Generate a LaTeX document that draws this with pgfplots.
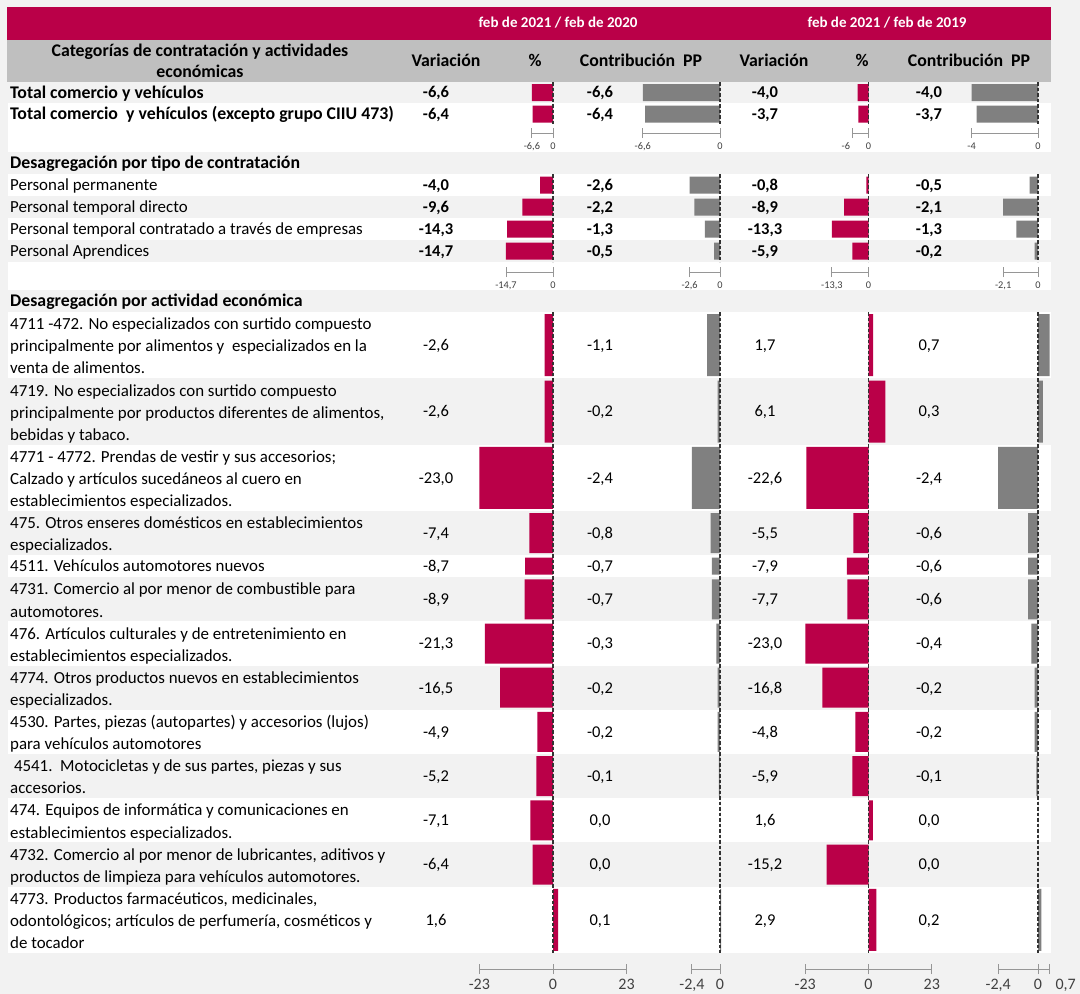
\documentclass[border=0pt]{standalone}
\usepackage{pgfplots}
\pgfplotsset{compat=1.18}
\usepackage{pgfplotstable}
\usepackage{fontspec}
\setmainfont{Carlito}
\definecolor{crim}{RGB}{186,0,72}
\definecolor{pagebg}{RGB}{242,242,242}
\definecolor{hdrgray}{RGB}{191,191,191}
\definecolor{bargray}{RGB}{128,128,128}
\definecolor{rulegray}{RGB}{150,150,150}

% y = row centre (px from top); A = var. % 21/20, B = contrib. PP 21/20, C = var. % 21/19, D = contrib. PP 21/19
\pgfplotstableread{
y A B C D
92.5 -6.6 -6.6 -4.0 -4.0
114 -6.4 -6.4 -3.7 -3.7
185 -4.0 -2.6 -0.8 -0.5
207 -9.6 -2.2 -8.9 -2.1
229 -14.3 -1.3 -13.3 -1.3
251 -14.7 -0.5 -5.9 -0.2
566.2 -8.7 -0.7 -7.9 -0.6
}\rowsS
\pgfplotstableread{
y A B C D
533 -7.4 -0.8 -5.5 -0.6
599.3 -8.9 -0.7 -7.7 -0.6
643.5 -21.3 -0.3 -23.0 -0.4
687.7 -16.5 -0.2 -16.8 -0.2
731.9 -4.9 -0.2 -4.8 -0.2
776.1 -5.2 -0.1 -5.9 -0.1
820.3 -7.1 0.0 1.6 0.0
864.5 -6.4 0.0 -15.2 0.0
}\rowsM
\pgfplotstableread{
y A B C D
345.2 -2.6 -1.1 1.7 0.7
411.5 -2.6 -0.2 6.1 0.3
477.8 -23.0 -2.4 -22.6 -2.4
919.8 1.6 0.1 2.9 0.2
}\rowsL

\newcommand\fb{\fontsize{16.5}{19}\selectfont}
\newcommand\fr{\fontsize{16.9}{19}\selectfont}
\newcommand\fbb{\fontsize{17.8}{20}\selectfont\bfseries}
\newcommand\fh{\fontsize{15}{18}\selectfont}
\newcommand\fs{\fontsize{10.3}{12}\selectfont}
\newcommand\fm{\fontsize{16}{18}\selectfont}

\tikzset{zl/.style={dash pattern=on 3.5pt off 2pt, line width=1.3pt, black!80}}
\pgfplotsset{
  colaxis/.style={scale only axis, hide axis, height=994pt, ymin=0, ymax=994,
    y dir=reverse, anchor=north west, clip=false, enlargelimits=false},
  rulerstyle/.style={scale only axis, height=1pt, ymin=0, ymax=1, anchor=south west,
    axis x line*=bottom, axis y line=none, ytick=\empty, enlargelimits=false,
    axis line style={rulegray, line width=0.9pt}, tick style={rulegray, line width=0.9pt},
    major tick length=10pt, tick align=center, clip=false,
    xticklabel style={text=black!75, anchor=north}},
}

% #1 column, #2 zero x, #3 px per unit, #4 xmin, #5 xmax, #6 colour
\newcommand{\barcolumn}[6]{%
  \pgfmathsetmacro\colL{#2+(#4)*#3}%
  \pgfmathsetmacro\colW{((#5)-(#4))*#3}%
  \begin{axis}[colaxis, at={(\colL pt,0pt)}, width=\colW pt, xmin=#4, xmax=#5]
    \addplot[xbar, bar shift=0pt, bar width=17pt, fill=#6, draw=none] table[x=#1,y=y]{\rowsS};
    \addplot[xbar, bar shift=0pt, bar width=40pt, fill=#6, draw=none] table[x=#1,y=y]{\rowsM};
    \addplot[xbar, bar shift=0pt, bar width=62pt, fill=#6, draw=none] table[x=#1,y=y]{\rowsL};
    \draw[zl] (axis cs:0,82) -- (axis cs:0,125);
    \draw[zl] (axis cs:0,174) -- (axis cs:0,262);
    \draw[zl] (axis cs:0,312) -- (axis cs:0,953);
  \end{axis}}

% #1 label style, #2 zero x, #3 line y, #4 px per unit, #5 xmin, #6 xmax, #7 ticks, #8 labels
\newcommand{\ruler}[8]{%
  \pgfmathsetmacro\rL{#2+(#5)*#4}%
  \pgfmathsetmacro\rW{((#6)-(#5))*#4}%
  \begin{axis}[rulerstyle, at={(\rL pt,-#3pt)}, width=\rW pt, xmin=#5, xmax=#6,
      xtick={#7}, xticklabels={#8}, xticklabel style={#1}]
  \end{axis}}

\newcommand{\txt}[2]{\node[anchor=base west, font=\fr, inner sep=0] at (10,#1+5.4) {#2};}
\newcommand{\txtb}[2]{\node[anchor=base west, font=\fbb, inner sep=0] at (10,#1+5.7) {#2};}
\newcommand{\vals}[6]{%
  \node[anchor=base, font=#1, inner sep=0] at (436,#2+5.3) {#3};
  \node[anchor=base, font=#1, inner sep=0] at (600,#2+5.3) {#4};
  \node[anchor=base, font=#1, inner sep=0] at (765,#2+5.3) {#5};
  \node[anchor=base, font=#1, inner sep=0] at (929,#2+5.3) {#6};}

\begin{document}
\begin{tikzpicture}
\path[use as bounding box] (0pt,0pt) rectangle (1080pt,-994pt);
\begin{scope}[x=1pt,y=-1pt]
  \fill[pagebg] (0,0) rectangle (1080,994);
  \fill[crim] (7,7) rectangle (1051,40);
  \fill[hdrgray] (7,40) rectangle (1051,82);
  % white rows
  \fill[white] (8,103) rectangle (1051,152);
  \fill[white] (8,174) rectangle (1051,196);
  \fill[white] (8,218) rectangle (1051,240);
  \fill[white] (8,262) rectangle (1051,290);
  \fill[white] (8,312) rectangle (1051,378.3);
  \fill[white] (8,444.6) rectangle (1051,510.9);
  \fill[white] (8,555.1) rectangle (1051,577.2);
  \fill[white] (8,621.4) rectangle (1051,665.6);
  \fill[white] (8,709.8) rectangle (1051,754);
  \fill[white] (8,798.2) rectangle (1051,842.4);
  \fill[white] (8,886.6) rectangle (1051,952.9);
\end{scope}

\barcolumn{A}{553}{3.2}{-25}{5}{crim}
\barcolumn{B}{720}{11.7}{-7}{1}{bargray}
\barcolumn{C}{868.5}{2.75}{-24}{7}{crim}
\barcolumn{D}{1038}{16.6}{-4.5}{1}{bargray}

\ruler{font=\fs, yshift=-1pt}{553}{133}{3.2}{-6.6}{0}{-6.6,0}{{-6,6},0}
\ruler{font=\fs, yshift=-1pt}{720}{133}{11.7}{-6.6}{0}{-6.6,0}{{-6,6},0}
\ruler{font=\fs, yshift=-1pt}{868.5}{133}{2.75}{-6}{0}{-6,0}{{\makebox[0pt][r]{-6\hspace{2pt}}},0}
\ruler{font=\fs, yshift=-1pt}{1038}{133}{16.6}{-4}{0}{-4,0}{-4,0}
\ruler{font=\fs, yshift=-1pt}{553}{272}{3.2}{-14.7}{0}{-14.7,0}{{-14,7},0}
\ruler{font=\fs, yshift=-1pt}{720}{272}{11.7}{-2.6}{0}{-2.6,0}{{-2,6},0}
\ruler{font=\fs, yshift=-1pt}{868.5}{272}{2.75}{-13.3}{0}{-13.3,0}{{-13,3},0}
\ruler{font=\fs, yshift=-1pt}{1038}{272}{16.6}{-2.1}{0}{-2.1,0}{{-2,1},0}
\ruler{font=\fm, yshift=-2pt}{553}{969}{3.2}{-23}{23}{-23,0,23}{-23,0,23}
\ruler{font=\fm, yshift=-2pt}{720}{969}{11.7}{-2.4}{0}{-2.4,0}{{-2,4},0}
\ruler{font=\fm, yshift=-2pt}{868.5}{969}{2.75}{-23}{23}{-23,0,23}{-23,0,23}
\ruler{font=\fm, yshift=-2pt}{1038}{969}{16.6}{-2.4}{0.7}{-2.4,0,0.7}{{-2,4},0,{\makebox[0pt][l]{\hspace{6pt}0,7}}}

\begin{scope}[x=1pt,y=-1pt]
  % header
  \node[font=\fh\bfseries, text=white] at (558,23) {feb de 2021 / feb de 2020};
  \node[font=\fh\bfseries, text=white] at (887,23) {feb de 2021 / feb de 2019};
  \node[anchor=base, font=\fbb, inner sep=0] at (200,56.6) {Categorías de contratación y actividades};
  \node[anchor=base, font=\fbb, inner sep=0] at (200,77.6) {económicas};
  \node[anchor=base, font=\fbb, inner sep=0] at (446,66.6) {Variación};
  \node[anchor=base, font=\fbb, inner sep=0] at (535,66.6) {\%};
  \node[anchor=base, font=\fbb, inner sep=0] at (641,66.6) {Contribución\ \ PP};
  \node[anchor=base, font=\fbb, inner sep=0] at (774,66.6) {Variación};
  \node[anchor=base, font=\fbb, inner sep=0] at (862,66.6) {\%};
  \node[anchor=base, font=\fbb, inner sep=0] at (969,66.6) {Contribución\ \ PP};
  % section 1
  \txtb{92.5}{Total comercio y vehículos}
  \begin{scope}
    \clip (0,100) rectangle (397,130);
    \txtb{114}{Total comercio\ \ y vehículos (excepto grupo CIIU 473)}
  \end{scope}
  \vals{\fb\bfseries}{92.5}{-6,6}{-6,6}{-4,0}{-4,0}
  \vals{\fb\bfseries}{114}{-6,4}{-6,4}{-3,7}{-3,7}
  % section 2
  \txtb{163}{Desagregación por tipo de contratación}
  \txt{185}{Personal permanente}
  \txt{207}{Personal temporal directo}
  \txt{229}{Personal temporal contratado a través de empresas}
  \txt{251}{Personal Aprendices}
  \vals{\fb\bfseries}{185}{-4,0}{-2,6}{-0,8}{-0,5}
  \vals{\fb\bfseries}{207}{-9,6}{-2,2}{-8,9}{-2,1}
  \vals{\fb\bfseries}{229}{-14,3}{-1,3}{-13,3}{-1,3}
  \vals{\fb\bfseries}{251}{-14,7}{-0,5}{-5,9}{-0,2}
  % section 3
  \txtb{301}{Desagregación por actividad económica}
  \txt{324.3}{4711 -472. No especializados con surtido compuesto}
  \txt{346.4}{principalmente por alimentos y\ \ especializados en la}
  \txt{368.5}{venta de alimentos.}
  \txt{390.6}{4719. No especializados con surtido compuesto}
  \txt{412.7}{principalmente por productos diferentes de alimentos,}
  \txt{434.8}{bebidas y tabaco.}
  \txt{456.9}{4771 - 4772. Prendas de vestir y sus accesorios;}
  \txt{479.0}{Calzado y artículos sucedáneos al cuero en}
  \txt{501.1}{establecimientos especializados.}
  \txt{523.2}{475. Otros enseres domésticos en establecimientos}
  \txt{545.3}{especializados.}
  \txt{566.4}{4511. Vehículos automotores nuevos}
  \txt{589.5}{4731. Comercio al por menor de combustible para}
  \txt{611.6}{automotores.}
  \txt{633.7}{476. Artículos culturales y de entretenimiento en}
  \txt{655.8}{establecimientos especializados.}
  \txt{677.9}{4774. Otros productos nuevos en establecimientos}
  \txt{700.0}{especializados.}
  \txt{722.1}{4530. Partes, piezas (autopartes) y accesorios (lujos)}
  \txt{744.2}{para vehículos automotores}
  \txt{766.3}{\ 4541.\ \ Motocicletas y de sus partes, piezas y sus}
  \txt{788.4}{accesorios.}
  \txt{810.5}{474. Equipos de informática y comunicaciones en}
  \txt{832.6}{establecimientos especializados.}
  \txt{854.7}{4732. Comercio al por menor de lubricantes, aditivos y}
  \txt{876.8}{productos de limpieza para vehículos automotores.}
  \txt{898.9}{4773. Productos farmacéuticos, medicinales,}
  \txt{921.0}{odontológicos; artículos de perfumería, cosméticos y}
  \txt{943.1}{de tocador}
  \vals{\fb}{345.2}{-2,6}{-1,1}{1,7}{0,7}
  \vals{\fb}{411.5}{-2,6}{-0,2}{6,1}{0,3}
  \vals{\fb}{477.8}{-23,0}{-2,4}{-22,6}{-2,4}
  \vals{\fb}{533}{-7,4}{-0,8}{-5,5}{-0,6}
  \vals{\fb}{566.2}{-8,7}{-0,7}{-7,9}{-0,6}
  \vals{\fb}{599.3}{-8,9}{-0,7}{-7,7}{-0,6}
  \vals{\fb}{643.5}{-21,3}{-0,3}{-23,0}{-0,4}
  \vals{\fb}{687.7}{-16,5}{-0,2}{-16,8}{-0,2}
  \vals{\fb}{731.9}{-4,9}{-0,2}{-4,8}{-0,2}
  \vals{\fb}{776.1}{-5,2}{-0,1}{-5,9}{-0,1}
  \vals{\fb}{820.3}{-7,1}{0,0}{1,6}{0,0}
  \vals{\fb}{864.5}{-6,4}{0,0}{-15,2}{0,0}
  \vals{\fb}{919.8}{1,6}{0,1}{2,9}{0,2}
\end{scope}
\end{tikzpicture}
\end{document}
